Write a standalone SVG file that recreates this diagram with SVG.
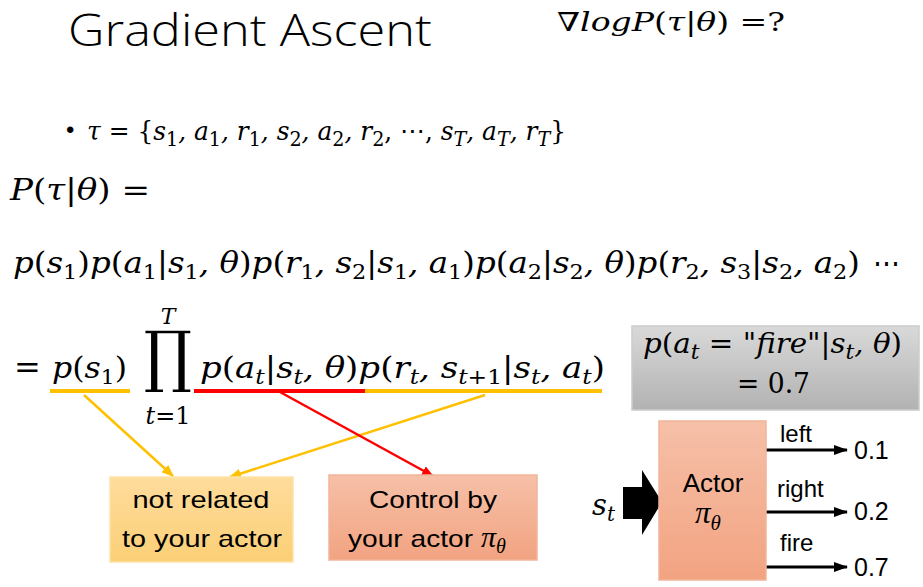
<svg xmlns="http://www.w3.org/2000/svg" width="923" height="587" viewBox="0 0 923 587">
<style>
.m{font-family:"DejaVu Serif","Liberation Serif",serif;font-style:italic;font-size:29px;fill:#000}
.pi{font-family:"Liberation Serif","DejaVu Serif",serif;font-style:italic;fill:#000}
.u{font-style:normal}
.sb{font-size:20px;font-style:normal}
.sbi{font-size:20px;font-style:italic}
.s{font-family:"Liberation Sans","Open Sans",sans-serif;fill:#000}
.lbl{font-size:24px}
.val{font-size:25px}
</style>
<defs>
<linearGradient id="gy" x1="0" y1="0" x2="0" y2="1"><stop offset="0" stop-color="#FEDC9C"/><stop offset="1" stop-color="#FBCF76"/></linearGradient>
<linearGradient id="gs" x1="0" y1="0" x2="0" y2="1"><stop offset="0" stop-color="#F6C0A8"/><stop offset="1" stop-color="#F2A381"/></linearGradient>
<linearGradient id="gg" x1="0" y1="0" x2="0" y2="1"><stop offset="0" stop-color="#D9D9D9"/><stop offset="1" stop-color="#B2B2B2"/></linearGradient>
<marker id="ay" markerWidth="12" markerHeight="10" refX="11" refY="5" orient="auto" markerUnits="userSpaceOnUse"><path d="M0,0 L12,5 L0,10 z" fill="#FFC000"/></marker>
<marker id="ar" markerWidth="12" markerHeight="10" refX="11" refY="5" orient="auto" markerUnits="userSpaceOnUse"><path d="M0,0 L12,5 L0,10 z" fill="#FF0000"/></marker>
<marker id="ak" markerWidth="14" markerHeight="10" refX="13" refY="5" orient="auto" markerUnits="userSpaceOnUse"><path d="M0,0 L14,5 L0,10 z" fill="#000"/></marker>
</defs>
<rect width="923" height="587" fill="#fff"/>

<g id="title">
<text x="68" y="46" style="font-family:'Open Sans','Liberation Sans',sans-serif;font-size:45px;font-weight:300" textLength="364" lengthAdjust="spacingAndGlyphs">Gradient Ascent</text>
<text x="557" y="31" class="m" style="font-size:26px" textLength="228" lengthAdjust="spacingAndGlyphs"><tspan class="u">∇</tspan>logP<tspan class="u">(</tspan>τ<tspan class="u">|</tspan>θ<tspan class="u">) =?</tspan></text>
</g>

<g id="tau">
<text x="66" y="138" class="s" style="font-size:24px">•</text>
<text x="87" y="140" class="m" style="font-size:26px" textLength="479" lengthAdjust="spacingAndGlyphs">τ <tspan class="u">= {</tspan>s<tspan class="sb" dy="6">1</tspan><tspan dy="-6">, a</tspan><tspan class="sb" dy="6">1</tspan><tspan dy="-6">, r</tspan><tspan class="sb" dy="6">1</tspan><tspan dy="-6">, s</tspan><tspan class="sb" dy="6">2</tspan><tspan dy="-6">, a</tspan><tspan class="sb" dy="6">2</tspan><tspan dy="-6">, r</tspan><tspan class="sb" dy="6">2</tspan><tspan dy="-6" class="u">, ⋯, </tspan><tspan>s</tspan><tspan class="sbi" dy="6">T</tspan><tspan dy="-6">, a</tspan><tspan class="sbi" dy="6">T</tspan><tspan dy="-6">, r</tspan><tspan class="sbi" dy="6">T</tspan><tspan dy="-6" class="u">}</tspan></text>
</g>

<g id="ptheta">
<text x="10" y="200" class="m" textLength="140" lengthAdjust="spacingAndGlyphs">P<tspan class="u">(</tspan>τ<tspan class="u">|</tspan>θ<tspan class="u">) =</tspan></text>
</g>

<g id="expand">
<text x="13" y="273" class="m" textLength="847" lengthAdjust="spacingAndGlyphs">p<tspan class="u">(</tspan>s<tspan class="sb" dy="6">1</tspan><tspan dy="-6" class="u">)</tspan><tspan>p</tspan><tspan class="u">(</tspan><tspan>a</tspan><tspan class="sb" dy="6">1</tspan><tspan dy="-6" class="u">|</tspan><tspan>s</tspan><tspan class="sb" dy="6">1</tspan><tspan dy="-6">, θ</tspan><tspan class="u">)</tspan><tspan>p</tspan><tspan class="u">(</tspan><tspan>r</tspan><tspan class="sb" dy="6">1</tspan><tspan dy="-6">, s</tspan><tspan class="sb" dy="6">2</tspan><tspan dy="-6" class="u">|</tspan><tspan>s</tspan><tspan class="sb" dy="6">1</tspan><tspan dy="-6">, a</tspan><tspan class="sb" dy="6">1</tspan><tspan dy="-6" class="u">)</tspan><tspan>p</tspan><tspan class="u">(</tspan><tspan>a</tspan><tspan class="sb" dy="6">2</tspan><tspan dy="-6" class="u">|</tspan><tspan>s</tspan><tspan class="sb" dy="6">2</tspan><tspan dy="-6">, θ</tspan><tspan class="u">)</tspan><tspan>p</tspan><tspan class="u">(</tspan><tspan>r</tspan><tspan class="sb" dy="6">2</tspan><tspan dy="-6">, s</tspan><tspan class="sb" dy="6">3</tspan><tspan dy="-6" class="u">|</tspan><tspan>s</tspan><tspan class="sb" dy="6">2</tspan><tspan dy="-6">, a</tspan><tspan class="sb" dy="6">2</tspan><tspan dy="-6" class="u">)</tspan></text>
<text x="873" y="273" class="m u" textLength="27" lengthAdjust="spacingAndGlyphs">⋯</text>
</g>

<g id="product">
<text x="14" y="378" class="m u" style="font-size:32px">=</text>
<text x="52" y="378" class="m" textLength="75" lengthAdjust="spacingAndGlyphs">p<tspan class="u">(</tspan>s<tspan class="sb" dy="6">1</tspan><tspan dy="-6" class="u">)</tspan></text>
<text x="168" y="379" class="m u" style="font-size:67px" text-anchor="middle" textLength="48" lengthAdjust="spacingAndGlyphs">∏</text>
<text x="168" y="324" class="m" style="font-size:22px" text-anchor="middle">T</text>
<text x="168" y="424" class="m" style="font-size:24px" text-anchor="middle" textLength="45" lengthAdjust="spacingAndGlyphs">t<tspan class="u">=1</tspan></text>
<text x="200" y="378" class="m" textLength="405" lengthAdjust="spacingAndGlyphs">p<tspan class="u">(</tspan>a<tspan class="sbi" dy="6">t</tspan><tspan dy="-6" class="u">|</tspan><tspan>s</tspan><tspan class="sbi" dy="6">t</tspan><tspan dy="-6">, θ</tspan><tspan class="u">)</tspan><tspan>p</tspan><tspan class="u">(</tspan><tspan>r</tspan><tspan class="sbi" dy="6">t</tspan><tspan dy="-6">, s</tspan><tspan class="sbi" dy="6">t</tspan><tspan class="sb">+1</tspan><tspan dy="-6" class="u">|</tspan><tspan>s</tspan><tspan class="sbi" dy="6">t</tspan><tspan dy="-6">, a</tspan><tspan class="sbi" dy="6">t</tspan><tspan dy="-6" class="u">)</tspan></text>
</g>

<g id="connectors" fill="none">
<line x1="50" y1="391" x2="130" y2="391" stroke="#FFC000" stroke-width="4"/>
<line x1="194" y1="391" x2="365" y2="391" stroke="#FF0000" stroke-width="4"/>
<line x1="365" y1="391" x2="602" y2="391" stroke="#FFC000" stroke-width="4"/>
<line x1="84" y1="395" x2="173" y2="476" stroke="#FFC000" stroke-width="2.5" marker-end="url(#ay)"/>
<line x1="485" y1="395" x2="230" y2="477" stroke="#FFC000" stroke-width="2.5" marker-end="url(#ay)"/>
<line x1="280" y1="392" x2="433" y2="476" stroke="#FF0000" stroke-width="2.5" marker-end="url(#ar)"/>
<line x1="766" y1="450" x2="847" y2="450" stroke="#000" stroke-width="3" marker-end="url(#ak)"/>
<line x1="766" y1="512" x2="847" y2="512" stroke="#000" stroke-width="3" marker-end="url(#ak)"/>
<line x1="766" y1="567" x2="847" y2="567" stroke="#000" stroke-width="3" marker-end="url(#ak)"/>
<path d="M623,487 H642 V470 L662,502 L642,535 V519 H623 Z" fill="#000" stroke="none"/>
</g>

<g id="not-related">
<rect x="110" y="477" width="183" height="85" fill="url(#gy)" stroke="#FDE3A6" stroke-width="1.5"/>
<text x="201" y="508" class="s lbl" text-anchor="middle" textLength="137" lengthAdjust="spacingAndGlyphs">not related</text>
<text x="202" y="547" class="s lbl" text-anchor="middle" textLength="160" lengthAdjust="spacingAndGlyphs">to your actor</text>
</g>

<g id="control">
<rect x="329" y="475" width="208" height="85" fill="url(#gs)" stroke="#F2B49A" stroke-width="1.5"/>
<text x="433" y="508" class="s lbl" text-anchor="middle" textLength="128" lengthAdjust="spacingAndGlyphs">Control by</text>
<text x="348" y="547" class="s lbl" textLength="125" lengthAdjust="spacingAndGlyphs">your actor</text>
<text x="481" y="547" class="pi" style="font-size:30px">π<tspan style="font-size:20px" dy="6">θ</tspan></text>
</g>

<g id="prob-box">
<rect x="632" y="326" width="287" height="84" fill="url(#gg)" stroke="#CCCCCC" stroke-width="1.5"/>
<text x="643" y="353" class="m" style="font-size:27px" textLength="259" lengthAdjust="spacingAndGlyphs">p<tspan class="u">(</tspan>a<tspan class="sbi" dy="6">t</tspan><tspan dy="-6" class="u"> = "</tspan><tspan>fire</tspan><tspan class="u">"|</tspan><tspan>s</tspan><tspan class="sbi" dy="6">t</tspan><tspan dy="-6">, θ</tspan><tspan class="u">)</tspan></text>
<text x="737" y="393" class="m u" style="font-size:27px" textLength="73" lengthAdjust="spacingAndGlyphs">= 0.7</text>
</g>

<g id="actor">
<rect x="659" y="421" width="107" height="159" fill="url(#gs)" stroke="#F2B49A" stroke-width="1.5"/>
<text x="713" y="492" class="s" style="font-size:26px" text-anchor="middle">Actor</text>
<text x="695" y="523" class="pi" style="font-size:31px">π<tspan style="font-size:21px" dy="7">θ</tspan></text>
</g>

<g id="state">
<text x="592" y="515" class="m">s<tspan class="sbi" dy="6">t</tspan></text>
</g>

<g id="outputs">
<text x="780" y="442" class="s lbl">left</text>
<text x="777" y="497" class="s lbl">right</text>
<text x="780" y="551" class="s lbl">fire</text>
<text x="854" y="459" class="s val">0.1</text>
<text x="854" y="520" class="s val">0.2</text>
<text x="854" y="576" class="s val">0.7</text>
</g>
</svg>
